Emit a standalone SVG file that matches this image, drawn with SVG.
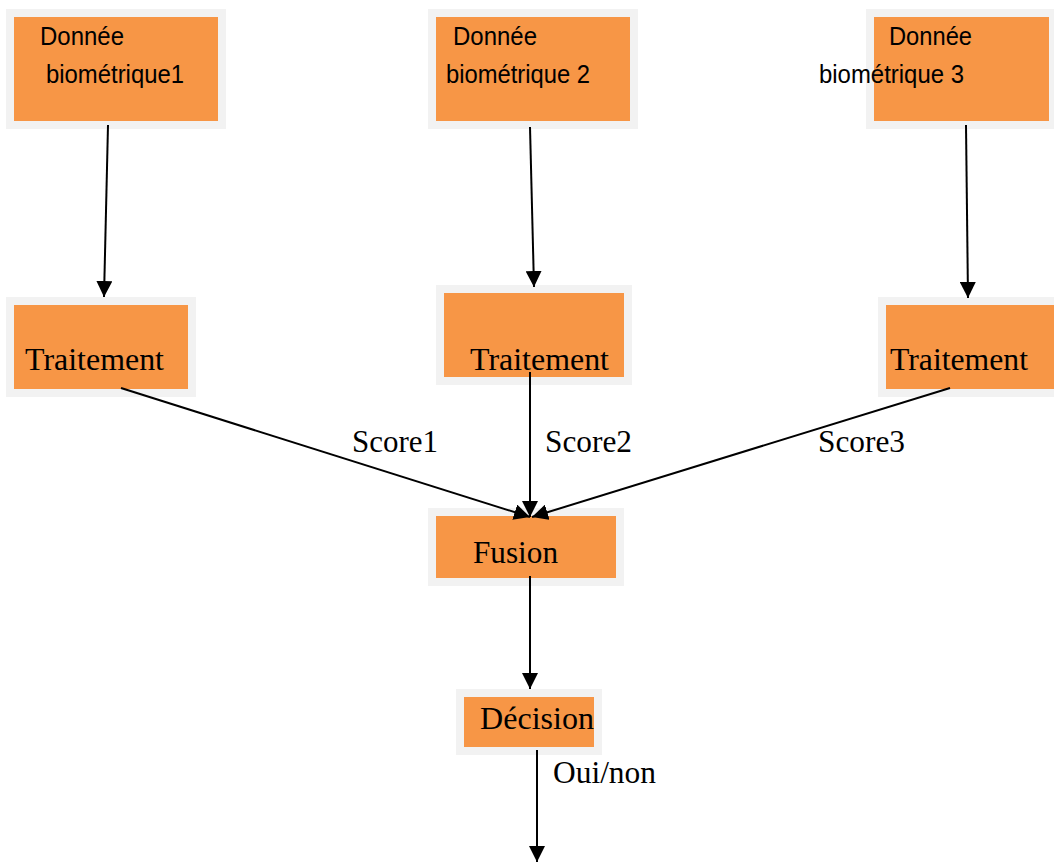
<svg xmlns="http://www.w3.org/2000/svg" width="1054" height="862" viewBox="0 0 1054 862">
<style>
.outer{fill:#F2F2F2}
.inner{fill:#F79646}
.sans{font-family:"Liberation Sans",Arial,sans-serif;font-size:26px;fill:#000}
.serif{font-family:"Liberation Serif","Times New Roman",serif;font-size:31px;fill:#000}
.conn{stroke:#000;stroke-width:2;fill:none;marker-end:url(#arr)}
</style>
<defs>
<marker id="arr" markerUnits="userSpaceOnUse" markerWidth="16" markerHeight="16" viewBox="0 0 16 16" refX="16" refY="8" orient="auto">
<path d="M0,0 L16,8 L0,16 Z" fill="#000"/>
</marker>
</defs>
<rect width="1054" height="862" fill="#fff"/>
<g id="donnee1">
<rect class="outer" x="6" y="9" width="220" height="120"/>
<rect class="inner" x="14" y="17" width="204" height="104"/>
<text class="sans" x="40" y="45" textLength="84" lengthAdjust="spacingAndGlyphs">Donnée</text>
<text class="sans" x="46" y="83" textLength="138" lengthAdjust="spacingAndGlyphs">biométrique1</text>
</g>
<g id="donnee2">
<rect class="outer" x="428" y="9" width="210" height="120"/>
<rect class="inner" x="436" y="17" width="194" height="104"/>
<text class="sans" x="453" y="45" textLength="84" lengthAdjust="spacingAndGlyphs">Donnée</text>
<text class="sans" x="446" y="83" textLength="144" lengthAdjust="spacingAndGlyphs">biométrique 2</text>
</g>
<g id="donnee3">
<rect class="outer" x="866" y="9" width="188" height="120"/>
<rect class="inner" x="874" y="17" width="175" height="104"/>
<text class="sans" x="889" y="45" textLength="83" lengthAdjust="spacingAndGlyphs">Donnée</text>
<text class="sans" x="819" y="83" textLength="145" lengthAdjust="spacingAndGlyphs">biométrique 3</text>
</g>
<g id="traitement1">
<rect class="outer" x="6" y="297" width="190" height="100"/>
<rect class="inner" x="14" y="305" width="174" height="84"/>
<text class="serif" x="25" y="370" textLength="139" lengthAdjust="spacingAndGlyphs">Traitement</text>
</g>
<g id="traitement2">
<rect class="outer" x="436" y="285" width="196" height="100"/>
<rect class="inner" x="444" y="293" width="180" height="84"/>
<text class="serif" x="470" y="370" textLength="139" lengthAdjust="spacingAndGlyphs">Traitement</text>
</g>
<g id="traitement3">
<rect class="outer" x="878" y="297" width="176" height="100"/>
<rect class="inner" x="886" y="305" width="168" height="84"/>
<text class="serif" x="890" y="370" textLength="138" lengthAdjust="spacingAndGlyphs">Traitement</text>
</g>
<g id="fusion">
<rect class="outer" x="428" y="508" width="196" height="78"/>
<rect class="inner" x="436" y="516" width="180" height="62"/>
<text class="serif" x="473" y="563" textLength="85" lengthAdjust="spacingAndGlyphs">Fusion</text>
</g>
<g id="decision">
<rect class="outer" x="456" y="689" width="146" height="66"/>
<rect class="inner" x="464" y="697" width="130" height="50"/>
<text class="serif" x="480" y="729" textLength="114" lengthAdjust="spacingAndGlyphs">Décision</text>
</g>
<g id="connectors">
<line class="conn" x1="108" y1="125" x2="104" y2="297"/>
<line class="conn" x1="530" y1="127" x2="534" y2="287"/>
<line class="conn" x1="966" y1="125" x2="968" y2="298"/>
<line class="conn" x1="121" y1="388" x2="530" y2="517"/>
<line class="conn" x1="530" y1="372" x2="530" y2="517"/>
<line class="conn" x1="950" y1="388" x2="532" y2="517"/>
<line class="conn" x1="530" y1="576" x2="530" y2="689"/>
<line class="conn" x1="537" y1="750" x2="537" y2="862"/>
</g>
<g id="labels">
<text class="serif" x="352" y="452" textLength="86" lengthAdjust="spacingAndGlyphs">Score1</text>
<text class="serif" x="545" y="452" textLength="87" lengthAdjust="spacingAndGlyphs">Score2</text>
<text class="serif" x="818" y="452" textLength="87" lengthAdjust="spacingAndGlyphs">Score3</text>
<text class="serif" x="553" y="783" textLength="103" lengthAdjust="spacingAndGlyphs">Oui/non</text>
</g>
</svg>
